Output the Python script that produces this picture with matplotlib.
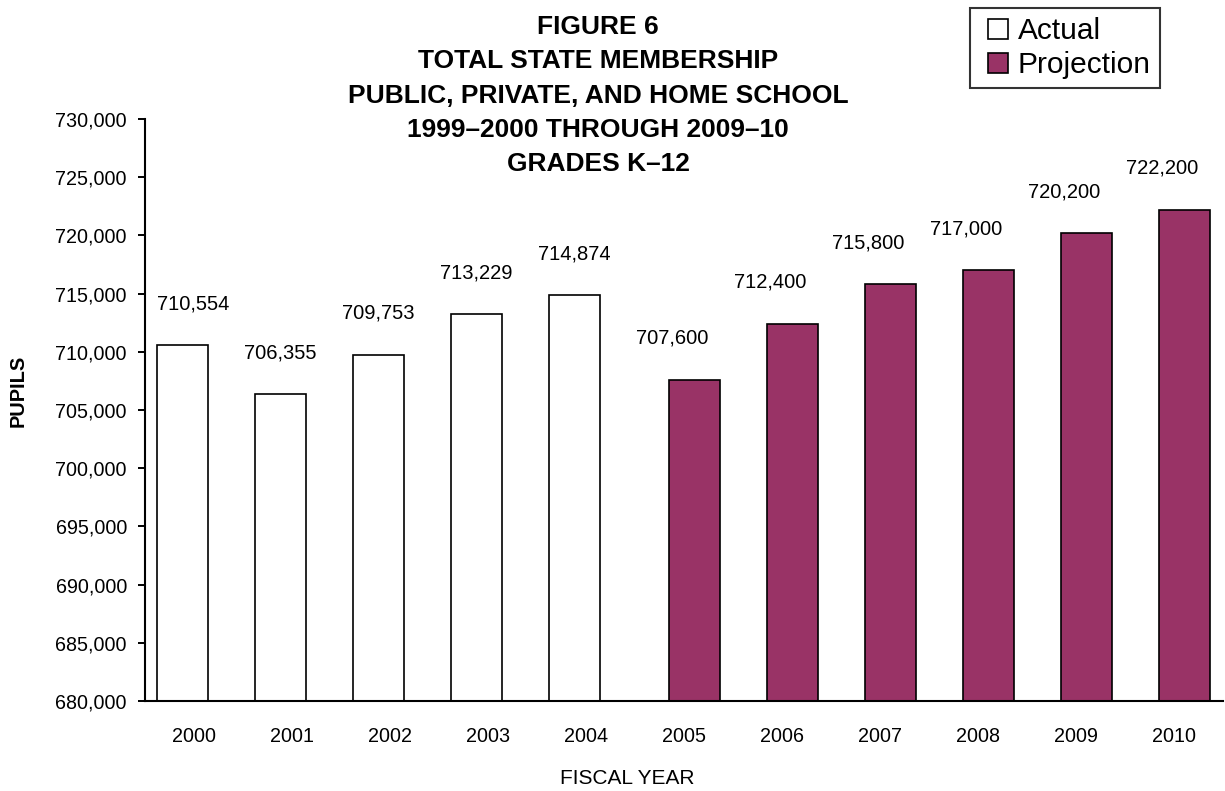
import matplotlib
matplotlib.use('Agg')
import matplotlib.pyplot as plt
from matplotlib.lines import Line2D
from matplotlib.ticker import FuncFormatter, MultipleLocator

plt.rcParams['font.family'] = ['Liberation Sans', 'DejaVu Sans']

# Fiscal years and pupil counts
years = ['2000', '2001', '2002', '2003', '2004', '2005',
         '2006', '2007', '2008', '2009', '2010']
actual = [710554, 706355, 709753, 713229, 714874]
projection = [707600, 712400, 715800, 717000, 720200, 722200]

title_lines = ['FIGURE 6',
               'TOTAL STATE MEMBERSHIP',
               'PUBLIC, PRIVATE, AND HOME SCHOOL',
               '1999\u20132000 THROUGH 2009\u201310',
               'GRADES K\u201312']

PLUM = '#993366'
BAR_W = 0.52

fig = plt.figure(figsize=(12.25, 7.91), dpi=100)
ax = fig.add_axes([145 / 1225, 1 - 701 / 791, 1078 / 1225, 582 / 791])

# two series share each category slot, so each sits a little off-centre
x_act = [i - 0.12 for i in range(len(actual))]
x_proj = [i + 0.11 for i in range(len(actual), len(years))]

ax.bar(x_act, actual, width=BAR_W, color='white', edgecolor='black', linewidth=1.2)
ax.bar(x_proj, projection, width=BAR_W, color=PLUM, edgecolor='black', linewidth=1.2)

# value labels: all sit over the first-series slot of their category
values = actual + projection
for i, v in enumerate(values):
    dx = 8 if i == 0 else 0
    ax.annotate(f'{v:,}', (i - 0.12, v), xytext=(dx, 23), textcoords='offset points',
                ha='center', va='bottom', fontsize=14.5)

ax.set_ylim(680000, 730000)
ax.set_xlim(-0.5, 10.5)
ax.yaxis.set_major_locator(MultipleLocator(5000))
ax.yaxis.set_major_formatter(FuncFormatter(lambda v, p: f'{int(v):,}'))
ax.set_xticks(range(len(years)))
ax.set_xticklabels(years)
ax.tick_params(axis='x', length=0, pad=19, labelsize=14.2)
ax.tick_params(axis='y', length=5, width=1.4, pad=8, labelsize=14.2, direction='out')

for side in ('top', 'right'):
    ax.spines[side].set_visible(False)
for side in ('left', 'bottom'):
    ax.spines[side].set_linewidth(1.5)

# title block
for i, line in enumerate(title_lines):
    fig.text(598 / 1225, 1 - (27 + 34.3 * i) / 791, line, ha='center', va='center',
             fontsize=19, fontweight='bold')

fig.text(18 / 1225, 1 - 391 / 791, 'PUPILS', rotation=90, ha='center', va='center',
         fontsize=14.4, fontweight='bold')
fig.text(627 / 1225, 1 - 778 / 791, 'FISCAL YEAR', ha='center', va='center', fontsize=15)

handles = [Line2D([], [], linestyle='none', marker='s', markersize=15,
                  markerfacecolor=c, markeredgecolor='black', markeredgewidth=1.2, label=lab)
           for c, lab in (('white', 'Actual'), (PLUM, 'Projection'))]
leg = fig.legend(handles=handles, loc='upper left',
                 bbox_to_anchor=(970 / 1225, 1 - 8 / 791), fontsize=21.5,
                 frameon=True, fancybox=False, handlelength=1.3, handletextpad=0.0,
                 borderpad=0.3, labelspacing=0.21, borderaxespad=0)
leg.get_frame().set_edgecolor('black')
leg.get_frame().set_linewidth(1.5)

fig.savefig('out.png', dpi=100)
plt.close(fig)
